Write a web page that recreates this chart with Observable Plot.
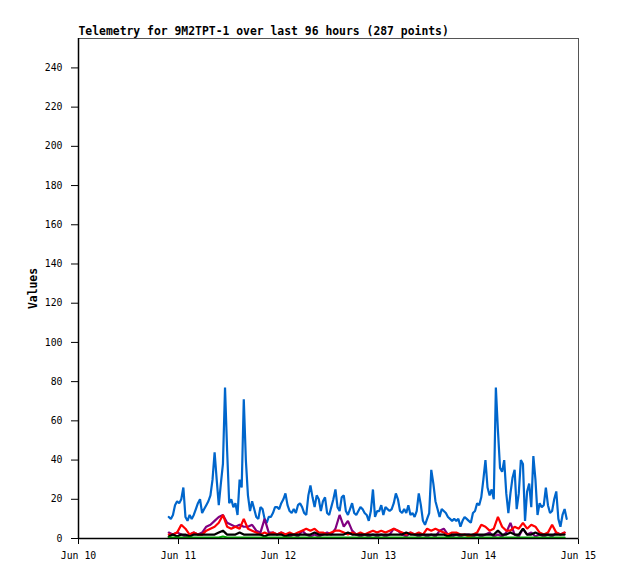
<!DOCTYPE html>
<html><head><meta charset="utf-8">
<script src="https://cdn.jsdelivr.net/npm/d3@7"></script>
<script src="https://cdn.jsdelivr.net/npm/@observablehq/plot@0.6"></script>
<style>body{margin:0;background:#fff;} svg{display:block;}</style>
</head><body><div id="chart"></div>
<script>
const title = "Telemetry for 9M2TPT-1 over last 96 hours (287 points)";
const yLabel = "Values";
const yTicks = [0,20,40,60,80,100,120,140,160,180,200,220,240];
const xTickLabels = ["Jun 10","Jun 11","Jun 12","Jun 13","Jun 14","Jun 15"];
const xTickDates = [Date.UTC(2024,5,10),Date.UTC(2024,5,11),Date.UTC(2024,5,12),Date.UTC(2024,5,13),Date.UTC(2024,5,14),Date.UTC(2024,5,15)].map(t => new Date(t));
const startTime = Date.UTC(2024,5,10,21,40);
const halfHourMs = 30*60*1000;
const hourMs = 60*60*1000;

// blue series, one reading every 30 minutes
const blueValues = [
11,10,12,17,19,18,20,26,11,9,12,10,12,15,18,20,13,15,17,19,22,30,44,30,17,28,38,77,45,18,20,16,18,12,30,26,71,40,22,14,19,15,11,10,16,15,10,8,
11,11,13,16,16,15,18,20,23,17,14,13,15,13,17,18,16,13,12,22,27,21,16,22,20,14,19,21,13,12,16,20,25,16,14,21,22,14,12,15,18,13,12,14,16,15,13,12,
9,14,25,11,14,14,17,12,16,15,14,15,18,23,20,14,13,15,13,17,12,13,11,14,23,17,9,7,10,13,35,28,19,15,11,15,14,13,11,10,9,10,9,10,6,9,11,10,
9,8,13,14,18,17,21,30,40,26,22,25,20,77,55,36,34,40,23,13,23,31,35,15,23,40,38,9,24,28,16,42,30,12,18,16,17,26,17,13,14,20,24,10,6,12,15,10
];
// other series, one reading every hour
const redValues = [
2,2,3,7,5,2,3,2,2,4,5,6,8,12,6,5,6,5,10,5,4,3,2,3,2,3,2,3,2,3,2,3,4,5,4,5,3,3,2,3,4,4,3,2,3,2,3,2,
3,4,3,4,3,4,5,4,3,2,3,2,3,2,5,4,5,4,3,2,3,3,2,2,1,2,3,7,6,4,5,11,6,4,4,6,5,8,5,7,6,3,2,3,7,3,2,3
];
const purpleValues = [
3,2,3,2,1,2,3,2,3,6,7,9,11,12,8,7,6,7,6,6,7,4,3,10,3,3,2,3,2,1,2,1,4,2,1,2,1,2,3,2,5,12,6,9,4,2,1,2,
1,2,1,2,1,2,5,4,2,1,3,2,1,2,1,2,1,4,5,2,1,2,1,2,2,1,2,1,2,3,1,2,1,3,8,2,1,5,2,3,1,2,1,2,1,3,2,3
];
const blackValues = [
1,2,1,2,2,1,2,2,2,2,2,2,3,4,2,2,2,3,2,2,2,2,2,1,2,2,2,2,1,2,2,2,2,2,2,3,2,2,2,2,2,2,2,3,2,2,2,2,
2,2,2,2,2,2,2,2,2,3,2,2,2,2,2,2,2,2,2,1,2,2,2,2,2,2,2,2,2,2,2,4,2,2,3,2,2,5,2,2,3,2,2,2,2,2,2,2
];
const greenValues = [
0.5,0.5,0.5,0.5,0.5,0.5,0.5,0.5,0.5,0.5,0.5,0.5,0.5,1,0.5,0.5,0.5,0.5,0.5,0.5,0.5,0.5,0.5,0.5,0.5,0.5,0.5,0.5,0.5,0.5,0.5,0.5,0.5,0.5,0.5,0.5,0.5,0.5,0.5,0.5,0.5,0.5,0.5,0.5,0.5,0.5,0.5,0.5,
0.5,0.5,0.5,0.5,0.5,0.5,0.5,0.5,0.5,0.5,0.5,0.5,0.5,0.5,0.5,0.5,0.5,0.5,0.5,0.5,0.5,0.5,0.5,0.5,0.5,0.5,0.5,0.5,0.5,0.5,0.5,0.5,0.5,0.5,0.5,0.5,0.5,0.5,0.5,0.5,0.5,0.5,0.5,0.5,0.5,0.5,0.5,0.5
];

const seriesColors = {blue:"#0066cc", red:"#ff0000", purple:"#800080", black:"#000000", green:"#00aa00"};

const toRows = (vals, step) => vals.map((v, i) => ({t: new Date(startTime + i*step), v}));
const blueRows = toRows(blueValues, halfHourMs);
const redRows = toRows(redValues, hourMs);
const purpleRows = toRows(purpleValues, hourMs);
const blackRows = toRows(blackValues, hourMs);
const greenRows = toRows(greenValues, hourMs);

const labelOf = new Map(xTickDates.map((d, i) => [+d, xTickLabels[i]]));
const lineStyle = {x: "t", y: "v", strokeWidth: 2.2, strokeLinejoin: "miter"};

const chart = Plot.plot({
  width: 618, height: 579,
  marginLeft: 78, marginRight: 40, marginTop: 38, marginBottom: 41,
  style: {fontFamily: "'DejaVu Sans Mono', monospace", fontSize: "9.8px", background: "#fff", color: "#000"},
  x: {type: "utc", domain: [xTickDates[0], xTickDates[xTickDates.length-1]], ticks: xTickDates, tickFormat: d => labelOf.get(+d), tickSize: 6, tickPadding: 8, label: null},
  y: {domain: [0, 255], ticks: yTicks, tickSize: 7, tickPadding: 9, label: null},
  marks: [
    Plot.frame({stroke: "#555"}),
    Plot.line(blueRows, {...lineStyle, stroke: seriesColors.blue}),
    Plot.line(purpleRows, {...lineStyle, stroke: seriesColors.purple}),
    Plot.line(redRows, {...lineStyle, stroke: seriesColors.red}),
    Plot.line(blackRows, {...lineStyle, stroke: seriesColors.black}),
    Plot.line(greenRows, {...lineStyle, stroke: seriesColors.green}),
    Plot.ruleY([0], {stroke: "#000", strokeWidth: 1.5}),
    Plot.ruleX([xTickDates[0]], {stroke: "#000", strokeWidth: 1.5}),
    Plot.text([title], {frameAnchor: "top-left", textAnchor: "start", lineAnchor: "bottom", dy: -4, fontWeight: "bold", fontSize: 11.4}),
    Plot.text([yLabel], {frameAnchor: "left", textAnchor: "middle", lineAnchor: "middle", rotate: -90, dx: -45, fontWeight: "bold", fontSize: 11.4})
  ]
});
document.getElementById("chart").appendChild(chart);
</script>
</body></html>
